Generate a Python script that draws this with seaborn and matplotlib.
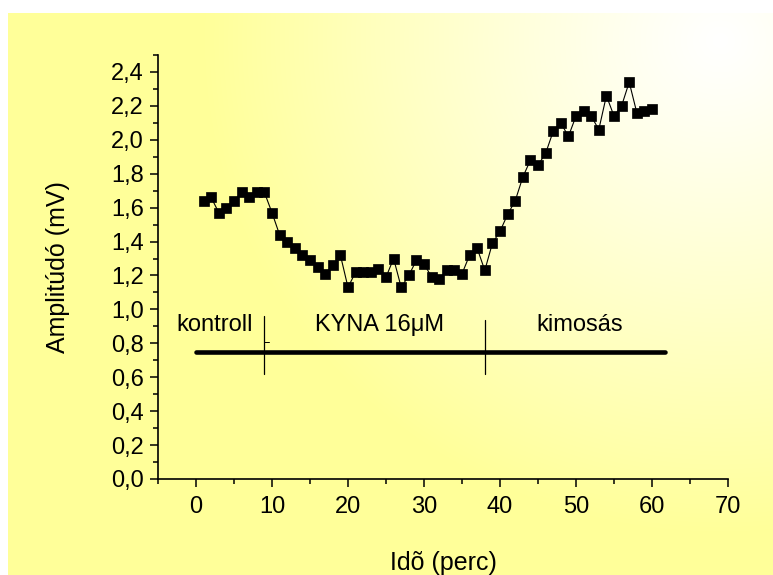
import numpy as np
import pandas as pd
import matplotlib
matplotlib.use("Agg")
import matplotlib.pyplot as plt
from matplotlib.ticker import FixedLocator, FuncFormatter
import seaborn as sns

# Time points (min) and evoked response amplitude (mV)
ido = list(range(1, 61))
amplitudo = [
    1.64, 1.66, 1.57, 1.60, 1.64, 1.69, 1.66, 1.69, 1.69, 1.57,
    1.44, 1.40, 1.36, 1.32, 1.29, 1.25, 1.21, 1.26, 1.32, 1.13,
    1.22, 1.22, 1.22, 1.24, 1.19, 1.30, 1.13, 1.20, 1.29, 1.27,
    1.19, 1.18, 1.23, 1.23, 1.21, 1.32, 1.36, 1.23, 1.39, 1.46,
    1.56, 1.64, 1.78, 1.88, 1.85, 1.92, 2.05, 2.10, 2.02, 2.14,
    2.17, 2.14, 2.06, 2.26, 2.14, 2.20, 2.34, 2.16, 2.17, 2.18,
]

# Experimental phases shown as a bar under the curve
fazis_nevek = ["kontroll", "KYNA 16\u03bcM", "kimosás"]
fazis_szoveg_x = [2.4, 24.2, 50.5]
fazis_hatarok = [9, 38]
fazis_vonal = [0, 61.7]
fazis_y = 0.75

x_major = [0, 10, 20, 30, 40, 50, 60, 70]
y_major = [0.0, 0.2, 0.4, 0.6, 0.8, 1.0, 1.2, 1.4, 1.6, 1.8, 2.0, 2.2, 2.4]

df = pd.DataFrame({"Idõ (perc)": ido, "Amplitúdó (mV)": amplitudo})

sns.set_theme(style="ticks")
plt.rcParams["font.family"] = ["Liberation Sans", "DejaVu Sans"]

W, H = 773, 575
fig = plt.figure(figsize=(W / 100, H / 100), dpi=100)

# Slide-style background: pale yellow fading to white toward the upper right
bg = fig.add_axes([0, 0, 1, 1], zorder=-10)
yy, xx = np.mgrid[0:H, 0:W]
d = np.hypot(xx - 720, (yy - 40) * 1.05)
t = np.clip(d / 520.0, 0, 1) ** 1.1
yellow = np.array([255, 255, 153]) / 255.0
img = (1 - t)[..., None] * np.ones(3) + t[..., None] * yellow
img[:13, :, :] = 1.0
img[:, :8, :] = 1.0
bg.imshow(img, aspect="auto", extent=[0, 1, 0, 1], origin="upper", interpolation="bilinear")
bg.set_axis_off()

ax = fig.add_axes([158 / W, (H - 479) / H, 570 / W, 424 / H])
ax.set_facecolor("none")

sns.lineplot(data=df, x="Idõ (perc)", y="Amplitúdó (mV)", ax=ax, color="black",
             linewidth=0.8, marker="s", markersize=6.8, markeredgecolor="black",
             markeredgewidth=0.5)

# Phase bar and separators
ax.plot(fazis_vonal, [fazis_y, fazis_y], color="black", linewidth=3.3,
        solid_capstyle="round")
ax.plot([fazis_hatarok[0]] * 2, [0.62, 0.96], color="black", linewidth=0.9)
ax.plot([fazis_hatarok[1]] * 2, [0.62, 0.94], color="black", linewidth=0.9)
ax.plot([fazis_hatarok[0], fazis_hatarok[0] + 0.6], [0.81, 0.81], color="black", linewidth=0.7)
for name, xpos in zip(fazis_nevek, fazis_szoveg_x):
    ax.text(xpos, 0.91, name, ha="center", va="center", fontsize=17, color="black")

ax.set_xlim(-5, 70)
ax.set_ylim(0, 2.5)

ax.xaxis.set_major_locator(FixedLocator(x_major))
ax.xaxis.set_minor_locator(FixedLocator(np.arange(-5, 70, 10)))
ax.yaxis.set_major_locator(FixedLocator(y_major))
ax.yaxis.set_minor_locator(FixedLocator(np.arange(0.1, 2.55, 0.2)))
ax.xaxis.set_major_formatter(FuncFormatter(lambda v, p: f"{v:.0f}"))
ax.yaxis.set_major_formatter(FuncFormatter(lambda v, p: f"{v:.1f}".replace(".", ",")))

for s in ["top", "right"]:
    ax.spines[s].set_visible(False)
for s in ["left", "bottom"]:
    ax.spines[s].set_linewidth(1.2)
    ax.spines[s].set_color("black")

ax.tick_params(axis="both", which="major", direction="out", length=6, width=1.1,
               color="black", labelsize=17, labelcolor="black")
ax.tick_params(axis="x", which="major", pad=6)
ax.tick_params(axis="y", which="major", pad=4)
ax.tick_params(axis="both", which="minor", direction="out", length=3.5, width=1.1,
               color="black")

ax.set_xlabel("Idõ (perc)", fontsize=18, color="black", va="center")
ax.set_ylabel("Amplitúdó (mV)", fontsize=18, color="black", va="center")
ax.xaxis.set_label_coords(0.5, -0.198)
ax.yaxis.set_label_coords(-0.175, 0.5)

fig.savefig("out.png", dpi=100)
